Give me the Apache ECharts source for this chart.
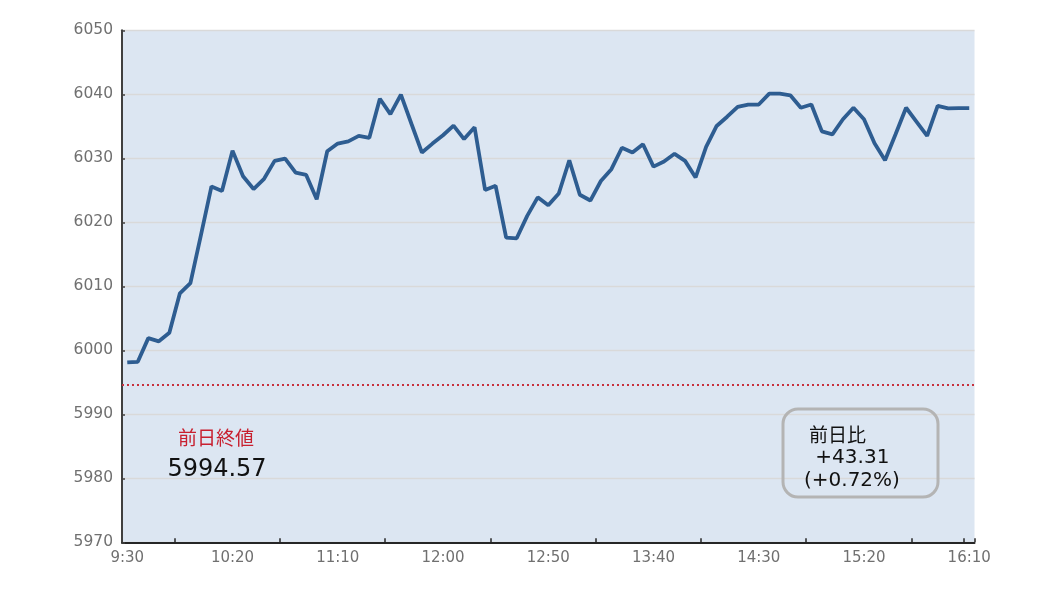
<!DOCTYPE html>
<html>
<head>
<meta charset="utf-8">
<script src="https://cdn.jsdelivr.net/npm/echarts@6/dist/echarts.min.js"></script>
<style>
html,body{margin:0;padding:0;background:#fff;}
#chart{width:1038px;height:598px;}
</style>
</head>
<body>
<div id="chart"></div>
<script>
const categories = [
 '9:30','9:35','9:40','9:45','9:50','9:55','10:00','10:05','10:10','10:15',
 '10:20','10:25','10:30','10:35','10:40','10:45','10:50','10:55','11:00','11:05',
 '11:10','11:15','11:20','11:25','11:30','11:35','11:40','11:45','11:50','11:55',
 '12:00','12:05','12:10','12:15','12:20','12:25','12:30','12:35','12:40','12:45',
 '12:50','12:55','13:00','13:05','13:10','13:15','13:20','13:25','13:30','13:35',
 '13:40','13:45','13:50','13:55','14:00','14:05','14:10','14:15','14:20','14:25',
 '14:30','14:35','14:40','14:45','14:50','14:55','15:00','15:05','15:10','15:15',
 '15:20','15:25','15:30','15:35','15:40','15:45','15:50','15:55','16:00','16:05',
 '16:10'
];
const prices = [
 5998.1, 5998.2, 6001.9, 6001.4, 6002.75, 6008.9, 6010.5, 6018.0, 6025.6, 6024.9,
 6031.2, 6027.2, 6025.2, 6026.8, 6029.6, 6029.95, 6027.75, 6027.4, 6023.6, 6031.1,
 6032.3, 6032.65, 6033.5, 6033.2, 6039.3, 6036.9, 6039.95, 6035.4, 6030.9, 6032.3,
 6033.6, 6035.1, 6033.0, 6034.85, 6025.05, 6025.7, 6017.6, 6017.5, 6021.0, 6023.9,
 6022.65, 6024.5, 6029.7, 6024.3, 6023.4, 6026.45, 6028.3, 6031.65, 6030.9, 6032.2,
 6028.7, 6029.5, 6030.7, 6029.6, 6027.0, 6031.8, 6035.05, 6036.5, 6038.05, 6038.4,
 6038.4, 6040.1, 6040.1, 6039.85, 6037.9, 6038.4, 6034.2, 6033.75, 6036.1, 6037.9,
 6036.1, 6032.35, 6029.7, 6033.75, 6037.9, 6035.7, 6033.5, 6038.2, 6037.8, 6037.85,
 6037.85
];
const prevClose = 5994.57;
const prevCloseLabel = '前日終値';
const prevCloseText = '5994.57';
const changeTitle = '前日比';
const changeValue = ' +43.31';
const changePct = '(+0.72%)';
const yMin = 5970, yMax = 6050, yStep = 10;

const FONT = '"DejaVu Sans", "Noto Sans CJK JP", sans-serif';
const chart = echarts.init(document.getElementById('chart'), null, {renderer: 'canvas'});
chart.setOption({
  animation: false,
  backgroundColor: '#ffffff',
  grid: {
    left: 122, width: 852.5, top: 30.3, bottom: 55.7,
    show: true, backgroundColor: '#dce6f2', borderWidth: 0
  },
  xAxis: {
    type: 'category',
    data: categories,
    boundaryGap: true,
    axisLine: {show: true, lineStyle: {color: '#262626', width: 2}},
    axisTick: {
      show: true, inside: true, length: 4,
      interval: function (i) { return i % 10 === 5 || i === 80; },
      lineStyle: {color: '#262626', width: 1.5}
    },
    axisLabel: {
      interval: 9, color: '#707070', fontSize: 15, fontFamily: FONT, margin: 8
    },
    splitLine: {show: false}
  },
  yAxis: {
    type: 'value',
    min: yMin, max: yMax, interval: yStep,
    axisLine: {show: true, lineStyle: {color: '#404040', width: 2}},
    axisTick: {show: true, inside: true, length: 3, lineStyle: {color: '#404040', width: 1.5}},
    axisLabel: {color: '#707070', fontSize: 15.5, fontFamily: FONT, margin: 9,
      formatter: function (v) { return String(v); }},
    splitLine: {show: true, lineStyle: {color: '#d9d9d9', width: 1.3}}
  },
  series: [{
    type: 'line',
    data: prices,
    symbol: 'none',
    lineStyle: {color: '#2e5d91', width: 3.8},
    z: 3,
    markLine: {
      silent: true,
      symbol: 'none',
      label: {show: false},
      lineStyle: {color: '#c8303c', type: [2, 3], width: 2.2},
      data: [{yAxis: prevClose}]
    }
  }],
  graphic: [
    {type: 'text', x: 216, y: 440.5, z: 10,
     style: {text: prevCloseLabel, fill: '#c8202f', font: '19px ' + FONT,
       textAlign: 'center', textVerticalAlign: 'middle', align: 'center', verticalAlign: 'middle'}},
    {type: 'text', x: 217, y: 470, z: 10,
     style: {text: prevCloseText, fill: '#111111', font: '24px ' + FONT,
       textAlign: 'center', textVerticalAlign: 'middle', align: 'center', verticalAlign: 'middle'}},
    {type: 'rect', z: 10,
     shape: {x: 783, y: 409, width: 155, height: 88, r: 15},
     style: {fill: 'none', stroke: '#b4b4b4', lineWidth: 3}},
    {type: 'text', x: 809, y: 437, z: 10,
     style: {text: changeTitle, fill: '#111111', font: '19px ' + FONT,
       textAlign: 'left', textVerticalAlign: 'middle', align: 'left', verticalAlign: 'middle'}},
    {type: 'text', x: 809, y: 458, z: 10,
     style: {text: changeValue, fill: '#111111', font: '20px ' + FONT,
       textAlign: 'left', textVerticalAlign: 'middle', align: 'left', verticalAlign: 'middle'}},
    {type: 'text', x: 804, y: 481, z: 10,
     style: {text: changePct, fill: '#111111', font: '20px ' + FONT,
       textAlign: 'left', textVerticalAlign: 'middle', align: 'left', verticalAlign: 'middle'}}
  ]
});
</script>
</body>
</html>
